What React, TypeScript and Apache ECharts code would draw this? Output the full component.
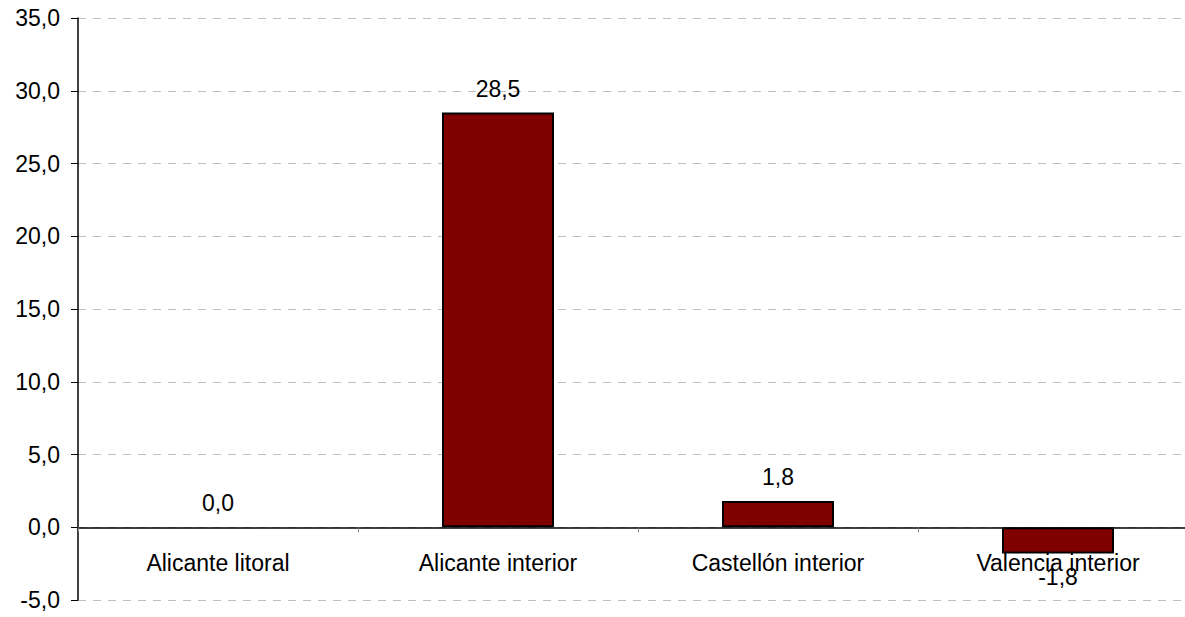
import React, { useEffect, useRef } from "react";
import * as echarts from "echarts";

const categories = ["Alicante litoral", "Alicante interior", "Castellón interior", "Valencia interior"];
const values = [0.0, 28.5, 1.8, -1.8];
const yMin = -5;
const yMax = 35;
const yInterval = 5;

const fmt = (v: number) => v.toFixed(1).replace(".", ",");

export default function App() {
  const ref = useRef<HTMLDivElement>(null);
  useEffect(() => {
    document.body.style.margin = "0";
    const chart = echarts.init(ref.current!, null, { renderer: "svg" });
    const font = "'Liberation Sans', Arial, sans-serif";
    chart.setOption({
      animation: false,
      backgroundColor: "#ffffff",
      grid: {
        left: 78,
        top: 18,
        bottom: 17,
        width: 1120,
        containLabel: false,
        outerBoundsMode: "none",
      },
      xAxis: {
        type: "category",
        data: categories,
        axisLine: { onZero: true, lineStyle: { color: "#000000", width: 1.5 } },
        axisTick: { show: true, length: 5, lineStyle: { color: "#808080" } },
        axisLabel: {
          margin: -48,
          fontSize: 23,
          lineHeight: 22,
          color: "#000000",
          fontFamily: font,
          interval: 0,
        },
        splitLine: { show: false },
      },
      yAxis: {
        type: "value",
        min: yMin,
        max: yMax,
        interval: yInterval,
        axisLine: { show: true, lineStyle: { color: "#000000", width: 1.5 } },
        axisTick: { show: true, length: 7, lineStyle: { color: "#000000" } },
        axisLabel: {
          margin: 18,
          fontSize: 23,
          color: "#000000",
          fontFamily: font,
          formatter: (v: number) => fmt(v),
        },
        splitLine: { show: true, lineStyle: { color: "#c0c0c0", type: [8, 7], width: 1 } },
      },
      series: [
        {
          type: "bar",
          barWidth: "40%",
          data: values.map((v) => ({
            value: v,
            label: { position: v < 0 ? "bottom" : "top" },
            itemStyle: v === 0 ? { borderWidth: 0 } : undefined,
          })),
          itemStyle: { color: "#800000", borderColor: "#000000", borderWidth: 2 },
          label: {
            show: true,
            distance: 13,
            fontSize: 23,
            lineHeight: 22,
            color: "#000000",
            fontFamily: font,
            formatter: (p: any) => fmt(p.value),
          },
        },
      ],
    });
    return () => chart.dispose();
  }, []);
  return <div ref={ref} style={{ width: 1185, height: 617 }} />;
}
